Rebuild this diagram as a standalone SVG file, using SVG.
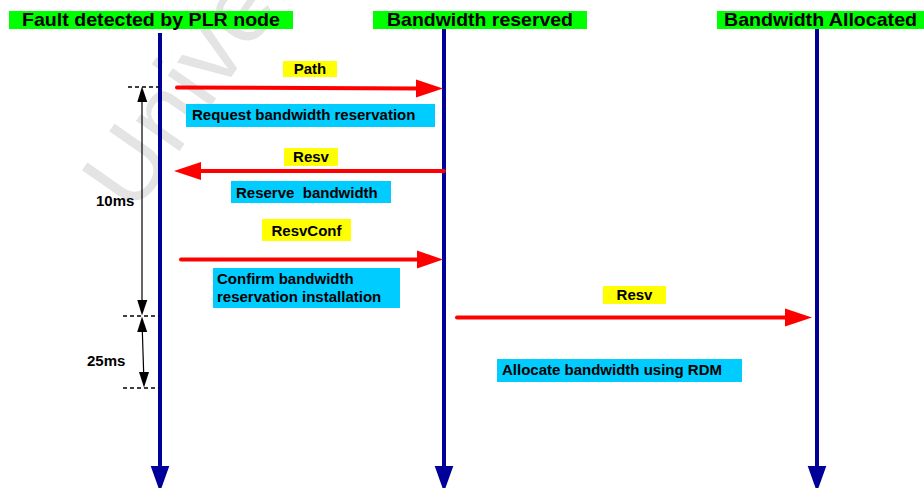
<svg xmlns="http://www.w3.org/2000/svg" width="924" height="488" viewBox="0 0 924 488">
  <defs>
    <style>
      .hdr { fill: #00ff00; }
      .msg { fill: #ffff00; }
      .note { fill: #00ccff; }
      .t { font-family: "Liberation Sans", Arial, sans-serif; font-weight: bold; fill: #000; }
      .th { font-size: 19px; }
      .ts { font-size: 15px; }
      .life { stroke: #000099; stroke-width: 4; fill: none; }
      .lifehead { fill: #000099; }
      .sig { stroke: #ff0000; stroke-width: 4; stroke-linecap: round; fill: none; }
      .sighead { fill: #ff0000; }
      .dash { stroke: #000; stroke-width: 1.5; stroke-dasharray: 4 3; fill: none; }
      .dim { stroke: #000; stroke-width: 1.2; fill: none; }
      .dimhead { fill: #000; }
      .wm { font-family: "Liberation Sans", Arial, sans-serif; font-size: 100px; fill: #e4e4e4; }
    </style>
  </defs>

  <rect width="924" height="488" fill="#ffffff"/>

  <!-- background watermark -->
  <text class="wm" transform="translate(134,216) rotate(-55)">Univer</text>

  <!-- lifelines -->
  <g id="lifelines">
    <g id="plr-node">
      <rect class="hdr" x="9" y="11" width="284" height="18"/>
      <text class="t th" x="22" y="26" textLength="258" lengthAdjust="spacingAndGlyphs">Fault detected by PLR node</text>
      <line class="life" x1="160" y1="33" x2="160" y2="468"/>
      <polygon class="lifehead" points="150.7,466 169.3,466 160,492"/>
    </g>
    <g id="reserved-node">
      <rect class="hdr" x="373" y="11" width="214" height="18"/>
      <text class="t th" x="387" y="26" textLength="186" lengthAdjust="spacingAndGlyphs">Bandwidth reserved</text>
      <line class="life" x1="444" y1="29" x2="444" y2="468"/>
      <polygon class="lifehead" points="434.7,466 453.3,466 444,492"/>
    </g>
    <g id="allocated-node">
      <rect class="hdr" x="717" y="11" width="207" height="18"/>
      <text class="t th" x="724" y="26" textLength="193" lengthAdjust="spacingAndGlyphs">Bandwidth Allocated</text>
      <line class="life" x1="817" y1="29" x2="817" y2="468"/>
      <polygon class="lifehead" points="807.7,466 826.3,466 817,492"/>
    </g>
  </g>

  <!-- messages -->
  <g id="connectors">
    <g id="msg-path">
      <line class="sig" x1="177" y1="87.5" x2="418" y2="88.5"/>
      <polygon class="sighead" points="416,79.5 443,88.5 416,97.5"/>
    </g>
    <g id="msg-resv">
      <line class="sig" x1="444" y1="171" x2="199" y2="171"/>
      <polygon class="sighead" points="201,162 174,171 201,180"/>
    </g>
    <g id="msg-resvconf">
      <line class="sig" x1="181" y1="259.5" x2="419" y2="259.5"/>
      <polygon class="sighead" points="417,250.5 443,259.5 417,268.5"/>
    </g>
    <g id="msg-resv-2">
      <line class="sig" x1="457" y1="317.5" x2="787" y2="317.5"/>
      <polygon class="sighead" points="785,308.5 812,317.5 785,326.5"/>
    </g>
  </g>

  <!-- message labels -->
  <g id="label-path">
    <rect class="msg" x="283" y="61" width="54" height="16"/>
    <text class="t ts" x="310" y="74" text-anchor="middle">Path</text>
  </g>
  <g id="note-request">
    <rect class="note" x="186" y="104" width="249" height="23"/>
    <text class="t ts" x="192" y="120">Request bandwidth reservation</text>
  </g>
  <g id="label-resv">
    <rect class="msg" x="284" y="148" width="54" height="18"/>
    <text class="t ts" x="311" y="162" text-anchor="middle">Resv</text>
  </g>
  <g id="note-reserve">
    <rect class="note" x="231" y="181" width="160" height="22"/>
    <text class="t ts" x="236" y="198" xml:space="preserve">Reserve  bandwidth</text>
  </g>
  <g id="label-resvconf">
    <rect class="msg" x="262" y="219" width="89" height="22"/>
    <text class="t ts" x="306.5" y="236" text-anchor="middle">ResvConf</text>
  </g>
  <g id="note-confirm">
    <rect class="note" x="213" y="268" width="187" height="40"/>
    <text class="t ts" x="217" y="284">Confirm bandwidth</text>
    <text class="t ts" x="217" y="302">reservation installation</text>
  </g>
  <g id="label-resv-2">
    <rect class="msg" x="603" y="286" width="63" height="18"/>
    <text class="t ts" x="634.5" y="300" text-anchor="middle">Resv</text>
  </g>
  <g id="note-allocate">
    <rect class="note" x="497" y="359" width="245" height="23"/>
    <text class="t ts" x="502" y="375">Allocate bandwidth using RDM</text>
  </g>

  <!-- timing dimensions -->
  <g id="timing">
    <line class="dash" x1="128" y1="87" x2="160" y2="87"/>
    <line class="dash" x1="123" y1="316" x2="160" y2="316"/>
    <line class="dash" x1="123" y1="388" x2="160" y2="388"/>

    <line class="dim" x1="142" y1="100" x2="142" y2="302"/>
    <polygon class="dimhead" points="142,86.5 137.3,102 147.3,102"/>
    <polygon class="dimhead" points="142,315.5 137.3,300 147.3,300"/>
    <text class="t ts" x="96" y="206">10ms</text>

    <line class="dim" x1="142.3" y1="330" x2="143.7" y2="374"/>
    <polygon class="dimhead" points="142,316.5 137.2,332 147.2,332"/>
    <polygon class="dimhead" points="144,387.5 139,372 149,372"/>
    <text class="t ts" x="87" y="366">25ms</text>
  </g>
</svg>
